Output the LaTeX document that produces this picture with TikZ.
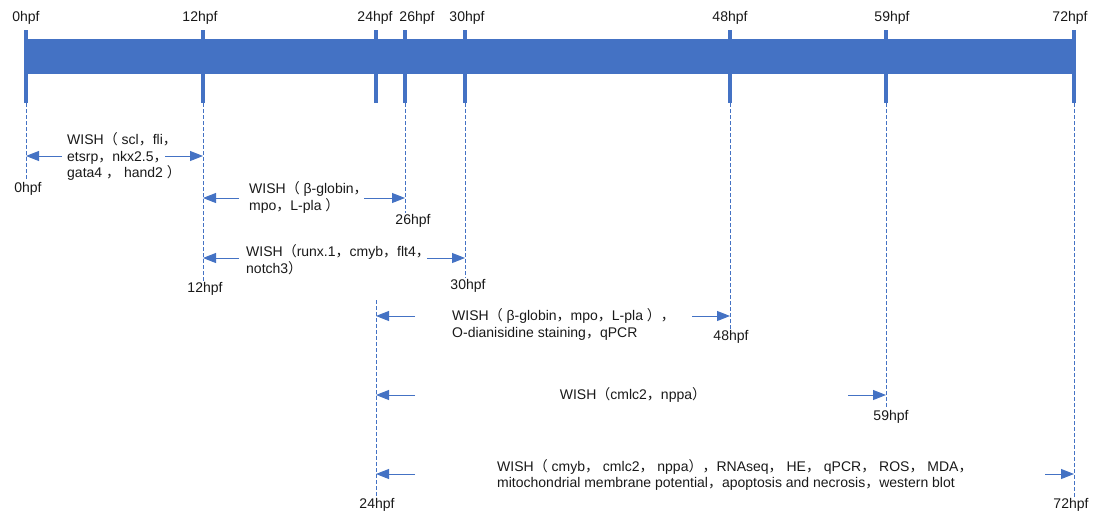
\documentclass[tikz,border=0pt]{standalone}
\usepackage{fontspec}
\setmainfont{Liberation Sans}
\newfontfamily\cjk{Noto Sans CJK SC}
\usetikzlibrary{arrows.meta}

\definecolor{barblue}{HTML}{4472C4}
% full-width punctuation
\newcommand{\zkl}{{\cjk （}}
\newcommand{\zkr}{{\cjk ）}}
\newcommand{\zdh}{{\cjk ，}}

\tikzset{
  lbl/.style={font=\fontsize{14}{16.5}\selectfont, text=black!90, inner sep=1.5pt},
  txt/.style={lbl, align=left, anchor=west, inner sep=0pt},
  tickmark/.style={barblue, line width=4pt},
  guide/.style={barblue, line width=0.9pt, dash pattern=on 4pt off 2pt},
  arr/.style={barblue, line width=1pt, -{Triangle[length=13pt,width=10pt]}}
}

\begin{document}
\begin{tikzpicture}[x=1pt,y=-1pt]
    \useasboundingbox (0,0) rectangle (1096,517);

    % time bar
    \fill[barblue] (25,39) rectangle (1075,74);
    \foreach \n / \x / \lx in {0/26/26, 12/203/200, 24/376/375, 26/405/417, 30/465/467, 48/730/730, 59/886/892, 72/1074/1070}
    {
        \draw[tickmark] (\x,30) -- (\x,103) coordinate (t\n);
        \node[lbl] (top\n) at (\lx,18) {\n hpf};
    }

    % guide lines down to the end labels
    \foreach \n / \lx / \ly in {0/28/189, 12/205/289, 26/413/221, 30/468/286, 48/731/337, 59/891/417, 72/1071/505}
    {
        \node[lbl] (b\n) at (\lx,\ly) {\n hpf};
        \draw[guide] (t\n) -- (b\n.north -| t\n);
    }
    \node[lbl] (b24) at (377,505) {24hpf};
    \coordinate (s24) at (376,300);
    \draw[guide] (s24) -- (b24.north -| s24);

    % experiments
    \node[txt] (w1) at (67,156.5) {WISH\zkl\ scl\zdh fli\zdh\\etsrp\zdh nkx2.5\zdh\\gata4 \zdh\ hand2 \zkr};
    \node[txt] (w2) at (249,197.5) {WISH\zkl\ β-globin\zdh\\mpo\zdh L-pla \zkr};
    \node[txt] (w3) at (246,259.5) {WISH\zkl runx.1\zdh cmyb\zdh flt4\zdh\\notch3\zkr};
    \node[txt] (w4) at (452,324.5) {WISH\zkl\ β-globin\zdh mpo\zdh L-pla \zkr\zdh\\O-dianisidine staining\zdh qPCR};
    \node[lbl, inner sep=0pt] (w5) at (633,395) {WISH\zkl cmlc2\zdh nppa\zkr};
    \node[txt] (w6) at (497,475) {WISH\zkl\ cmyb\zdh\ cmlc2\zdh\ nppa\zkr\zdh RNAseq\zdh\ HE\zdh\ qPCR\zdh\ ROS\zdh\ MDA\zdh\\mitochondrial membrane potential\zdh apoptosis and necrosis\zdh western blot};

    % arrows: row / y / left line / tail x / right line / tail x
    \foreach \r / \y / \la / \lx / \rb / \rx in {1/156/0/62/12/165, 2/198/12/239/26/364, 3/258/12/239/30/427, 4/316/24/415/48/692, 5/395/24/415/59/848, 6/474/24/415/72/1045}
    {
        \coordinate (l\r) at (\lx,\y);
        \coordinate (r\r) at (\rx,\y);
        \draw[arr] (l\r) -- (l\r -| t\la);
        \draw[arr] (r\r) -- (r\r -| t\rb);
    }

\end{tikzpicture}
\end{document}
